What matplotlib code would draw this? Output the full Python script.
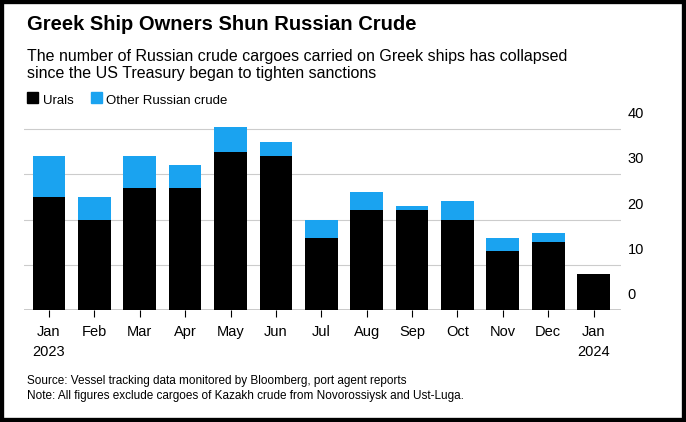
import matplotlib.pyplot as plt
import matplotlib.transforms as mtransforms
from matplotlib.patches import Rectangle

months = ["Jan\n2023","Feb","Mar","Apr","May","Jun","Jul","Aug","Sep","Oct","Nov","Dec","Jan\n2024"]
urals = [25,20,27,27,35,34,16,22,22,20,13,15,8]
other = [9,5,7,5,6,3,4,4,1,4,3,2,0]

plt.rcParams['font.family'] = ['Liberation Sans','DejaVu Sans']
fig = plt.figure(figsize=(6.86,4.22), dpi=100)
fig.patches.append(Rectangle((0,0),1,1,transform=fig.transFigure,fill=False,ec='black',lw=6))
ax = fig.add_axes([0.035,0.265,0.87,0.435])
x = range(len(months))
ax.bar(x, urals, width=0.72, color='black', zorder=3)
ax.bar(x, other, bottom=urals, width=0.72, color='#1aa3f0', zorder=3)
ax.set_ylim(0,40.5)
ax.set_xlim(-0.55,12.6)
ax.set_yticks([0,10,20,30,40])
for s in ax.spines.values(): s.set_visible(False)
ax.yaxis.tick_right()
ax.tick_params(axis='y', length=0, labelsize=10.5, pad=-14)
ax.set_yticklabels(['0','10','20','30','40'])
for t in ax.get_yticklabels():
    t.set_verticalalignment('bottom')
    t.set_transform(t.get_transform() + mtransforms.ScaledTranslation(0.26,0.08,fig.dpi_scale_trans))
ax.grid(axis='y', color='#cccccc', lw=0.8, zorder=0)
ax.axhline(0, color='black', lw=1, zorder=4)
ax.set_xticks(list(x))
ax.set_xticklabels(months, fontsize=10.5, linespacing=1.5)
ax.tick_params(axis='x', length=5, color='black', pad=6)

fig.text(0.04,0.93,"Greek Ship Owners Shun Russian Crude", fontsize=14.5, fontweight='bold')
fig.text(0.04,0.815,"The number of Russian crude cargoes carried on Greek ships has collapsed\nsince the US Treasury began to tighten sanctions", fontsize=11.5, linespacing=1.15)
fig.patches.append(Rectangle((0.04,0.756),0.015,0.026,transform=fig.transFigure,color='black'))
fig.text(0.062,0.754,"Urals", fontsize=9.5)
fig.patches.append(Rectangle((0.133,0.756),0.015,0.026,transform=fig.transFigure,color='#1aa3f0'))
fig.text(0.155,0.754,"Other Russian crude", fontsize=9.5)
fig.text(0.04,0.055,"Source: Vessel tracking data monitored by Bloomberg, port agent reports\nNote: All figures exclude cargoes of Kazakh crude from Novorossiysk and Ust-Luga.", fontsize=8.5, linespacing=1.3)
fig.savefig("out.png", dpi=100, facecolor='white')
